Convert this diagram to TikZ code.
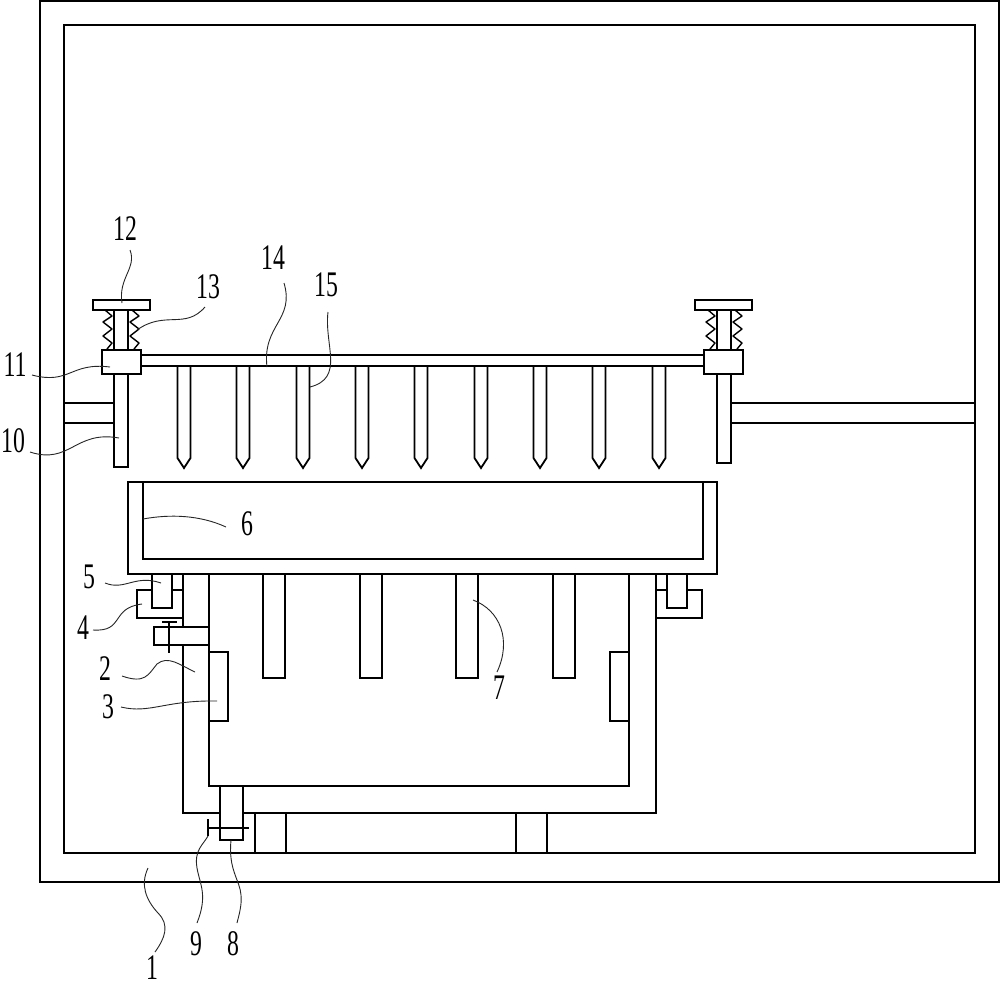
\documentclass[tikz,border=0pt]{standalone}
\usepackage{fontspec}
\setmainfont{Liberation Serif}
\tikzset{
  part/.style={draw=black,line width=1.8pt,line join=miter},
  thinpart/.style={draw=black,line width=1.5pt},
  coil/.style={draw=black,line width=1.4pt,line join=round},
  leader/.style={draw=black!85,line width=0.9pt},
  num/.style={inner sep=0pt,font=\fontsize{36}{36}\selectfont,xscale=0.66}
}
\newcommand{\coilat}[1]{%
  \draw[coil] (#1+2,310) -- (#1+9,316) -- (#1,322) -- (#1+9,329) -- (#1,336) -- (#1+9,343) -- (#1+4,349);}
\begin{document}
\begin{tikzpicture}[x=1pt,y=-1pt]
\useasboundingbox (0,0) rectangle (1000,988);
\fill[white] (0,0) rectangle (1000,988);
% cabinet
\draw[part] (40,1) rectangle (999,882);
\draw[part] (64,25) rectangle (975,853);
% brackets
\draw[part] (64,403) -- (114,403) (64,423) -- (114,423);
\draw[part] (731,403) -- (975,403) (731,423) -- (975,423);
% rods
\draw[part] (114,310) -- (114,467) -- (128,467) -- (128,310);
\draw[part] (717,310) -- (717,463) -- (731,463) -- (731,310);
% springs
\coilat{103}
\coilat{130}
\coilat{706}
\coilat{733}
% plates
\draw[part,fill=white] (93,300) rectangle (150,310);
\draw[part,fill=white] (695,300) rectangle (752,310);
% cross bar and sliders
\draw[part] (141,355) -- (704,355) (141,366) -- (704,366);
\draw[part,fill=white] (102,350) rectangle (141,374);
\draw[part,fill=white] (704,350) rectangle (743,374);
% pins
\foreach \c in {184,243,303,362,421,481,540,599,659}{
  \draw[part] (\c-6.5,366) -- (\c-6.5,458) -- (\c,468) -- (\c+6.5,458) -- (\c+6.5,366);
}
% tray
\draw[part] (128,482) rectangle (717,574);
\draw[part] (143,482) -- (143,559) -- (703,559) -- (703,482);
% vessel
\draw[part] (183,574) -- (183,813) -- (220,813);
\draw[part] (243,813) -- (656,813) -- (656,574);
\draw[part] (209,574) -- (209,786) -- (629,786) -- (629,574);
% guides left
\draw[part] (152,574) -- (152,608) -- (172,608) -- (172,574);
\draw[part] (152,590) -- (137,590) -- (137,618) -- (183,618);
\draw[part] (172,590) -- (183,590);
% guides right
\draw[part] (667,574) -- (667,608) -- (687,608) -- (687,574);
\draw[part] (667,590) -- (656,590);
\draw[part] (687,590) -- (702,590) -- (702,618) -- (656,618);
% motor block
\draw[part,fill=white] (154,627) rectangle (209,645);
\draw[thinpart] (162,622) -- (177,622) (169,622) -- (169,653);
% pads 3
\draw[part] (209,652) -- (228,652) -- (228,721) -- (209,721);
\draw[part] (629,652) -- (610,652) -- (610,721) -- (629,721);
% columns 7
\foreach \c in {263,360,456,553}{
  \draw[part] (\c,574) -- (\c,678) -- (\c+22,678) -- (\c+22,574);
}
% drain 8, valve 9
\draw[part] (220,786) -- (220,840) -- (243,840) -- (243,786);
\draw[thinpart] (208,819) -- (208,836) (208,828) -- (249,828);
% legs
\draw[part] (255,813) -- (255,853) (286,813) -- (286,853);
\draw[part] (516,813) -- (516,853) (547,813) -- (547,853);
% labels
\node[num] (n1) at (152,968) {1};
\node[num] (n2) at (105,669) {2};
\node[num] (n3) at (108,707) {3};
\node[num] (n4) at (83,628) {4};
\node[num] (n5) at (89,577) {5};
\node[num] (n6) at (247,524) {6};
\node[num] (n7) at (499,688) {7};
\node[num] (n8) at (233,944) {8};
\node[num] (n9) at (196,944) {9};
\node[num] (n10) at (13,441) {10};
\node[num] (n11) at (15,365) {11};
\node[num] (n12) at (125,229) {12};
\node[num] (n13) at (208,287) {13};
\node[num] (n14) at (273,258) {14};
\node[num] (n15) at (326,285) {15};
% leaders
\coordinate (a1) at (148,868); \coordinate (b1) at (155,952);
\draw[leader] (a1) .. controls (140,885) and (146,900) .. (158,913) .. controls (170,925) and (165,938) .. (b1);
\coordinate (a2) at (122,676); \coordinate (b2) at (195,672);
\draw[leader] (a2) .. controls (145,684) and (148,675) .. (157,664) .. controls (168,655) and (180,665) .. (b2);
\coordinate (a3) at (121,707); \coordinate (b3) at (217,701);
\draw[leader] (a3) .. controls (150,714) and (165,700) .. (b3);
\coordinate (a4) at (93,630); \coordinate (b4) at (142,604);
\draw[leader] (a4) .. controls (125,632) and (110,608) .. (b4);
\coordinate (a5) at (105,583); \coordinate (b5) at (161,583);
\draw[leader] (a5) .. controls (125,591) and (135,574) .. (b5);
\coordinate (a6) at (143,519); \coordinate (b6) at (226,527);
\draw[leader] (a6) .. controls (170,514) and (200,515) .. (b6);
\coordinate (a7) at (473,600); \coordinate (b7) at (497,672);
\draw[leader] (a7) .. controls (500,610) and (512,640) .. (b7);
\coordinate (a8) at (231,840); \coordinate (b8) at (237,923);
\draw[leader] (a8) .. controls (228,870) and (240,880) .. (241,895) .. controls (242,905) and (239,915) .. (b8);
\coordinate (a9) at (208,836); \coordinate (b9) at (197,923);
\draw[leader] (a9) .. controls (203,845) and (194,850) .. (197,868) .. controls (200,885) and (208,895) .. (b9);
\coordinate (a10) at (30,452); \coordinate (b10) at (119,438);
\draw[leader] (a10) .. controls (70,465) and (75,430) .. (b10);
\coordinate (a11) at (32,375); \coordinate (b11) at (110,367);
\draw[leader] (a11) .. controls (70,385) and (70,362) .. (b11);
\coordinate (a12) at (130,250); \coordinate (b12) at (122,303);
\draw[leader] (a12) .. controls (137,268) and (118,278) .. (b12);
\coordinate (a13) at (205,307); \coordinate (b13) at (137,330);
\draw[leader] (a13) .. controls (185,330) and (165,310) .. (b13);
\coordinate (a14) at (284,283); \coordinate (b14) at (267,367);
\draw[leader] (a14) .. controls (295,320) and (262,325) .. (b14);
\coordinate (a15) at (328,312); \coordinate (b15) at (310,387);
\draw[leader] (a15) .. controls (324,345) and (345,378) .. (b15);
\end{tikzpicture}
\end{document}
